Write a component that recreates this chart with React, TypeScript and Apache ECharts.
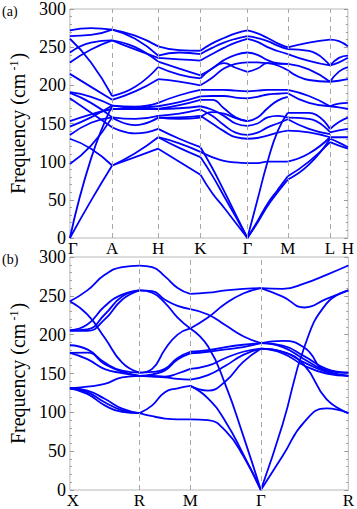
import React, { useEffect, useRef } from "react";
import * as echarts from "echarts";

// ---------- panel (a) ----------
const topTicks = [0, 45, 94, 139, 189, 232, 277, 296];
const topLabels = ["Γ", "A", "H", "K", "Γ", "M", "L", "H"];

const topGA = [
  [272, 275, 273],
  [264.5, 266, 273],
  [261, 230, 186],
  [243, 256, 259],
  [230, 247, 259],
  [215, 198, 181],
  [191, 185, 173.5],
  [190, 177, 158],
  [183, 164, 145],
  [153, 162, 169],
  [146, 158, 173.5],
  [135, 151, 158],
  [130, 117, 95],
  [97, 121, 158],
  [0, 104, 173.5],
  [0, 49, 95],
];
const topAH = [
  [273, 265, 251],
  [273, 261, 239],
  [259, 250, 231],
  [259, 247, 236],
  [186, 198, 224],
  [181, 192, 208],
  [173.5, 172, 177],
  [173.5, 171, 172.6],
  [169, 169, 169],
  [158, 148, 157.7],
  [158, 156, 160],
  [145, 137, 143],
  [95, 111, 132],
  [95, 106, 117],
];
const topHK = [
  [251, 246, 245.3],
  [239, 243, 241],
  [236, 234, 232.5],
  [231, 222, 213],
  [224, 214, 209],
  [208, 205, 200],
  [177, 187, 194],
  [172.6, 178, 185.5],
  [169, 174, 181],
  [169, 170, 172.6],
  [160, 163, 168.4],
  [157.7, 158, 160],
  [157.7, 156, 157.7],
  [143, 130, 119],
  [132, 124, 112.8],
  [132, 118, 106],
  [117, 100, 83],
];
const topKG = [
  [245.3, 255, 262, 268, 272],
  [241, 249, 256, 261, 264.5],
  [232.5, 241, 249, 256, 261],
  [213, 222, 233, 240, 243],
  [209, 222, 229, 223, 217.5],
  [200, 210, 222, 228, 230],
  [194, 194, 194, 193, 192],
  [185.5, 186, 186, 184, 183],
  [181, 181, 170, 158, 153],
  [172.6, 168, 160, 150, 147],
  [168.4, 160, 148, 138, 135],
  [160, 150, 140, 132, 130],
  [157.7, 165, 163, 157, 153],
  [119, 92, 62, 31, 0],
  [112.8, 106, 101, 99, 98],
  [106, 82, 55, 28, 0],
  [83, 59, 40, 20, 0],
];
const topGM = [
  [272, 268, 262, 255, 249.6],
  [264.5, 262, 258, 252, 247.4],
  [261, 257, 250, 245, 241],
  [243, 240, 233, 229, 228],
  [230, 230, 229, 228, 228],
  [217.5, 222, 229, 226, 219.7],
  [192, 193, 194, 194, 194],
  [183, 185, 188, 189, 189.7],
  [153, 158, 170, 180, 185],
  [147, 150, 158, 160, 157.7],
  [135, 138, 145, 150, 155.6],
  [130, 131, 134, 138, 140.6],
  [98, 98, 100, 100, 100],
  [0, 50, 100, 140, 164],
  [0, 22, 45, 63, 80.8],
  [0, 20, 42, 60, 76.5],
];
const topML = [
  [249.6, 256, 260],
  [247.4, 245, 226],
  [241, 232, 226],
  [228, 221, 204.7],
  [219.7, 207, 204.7],
  [194, 186, 172.6],
  [189.7, 177, 172.6],
  [164, 164, 142.7],
  [157.7, 156, 138.5],
  [155.6, 143, 136],
  [140.6, 138.5, 132],
  [100, 110.7, 132],
  [80.8, 100, 125.6],
  [76.5, 96, 130],
];
const topLH = [
  [260, 258, 251],
  [226, 236, 239],
  [226, 230, 236],
  [204.7, 218, 224],
  [204.7, 206, 208],
  [172.6, 176, 177],
  [172.6, 171, 169],
  [142.7, 152, 157.7],
  [138.5, 141, 143],
  [132, 132, 132],
  [130, 125, 119],
  [125.6, 121, 117],
];
const topSegments = [topGA, topAH, topHK, topKG, topGM, topML, topLH];

// ---------- panel (b) ----------
const botTicks = [0, 74, 128, 203, 296];
const botLabels = ["X", "R", "M", "Γ", "R"];

const botXR = [
  [243, 257, 277, 287, 289],
  [243, 226, 196, 164, 151],
  [205.5, 213, 236.6, 251.5, 257],
  [205.5, 206.8, 226, 249, 257],
  [205, 205, 219.6, 245, 257],
  [186.4, 181, 164, 153.6, 151],
  [176.6, 177, 162, 152.4, 147],
  [176.6, 168.5, 155.7, 150.6, 147],
  [131, 133, 136.6, 145, 147],
  [131, 126, 113, 102.6, 99],
  [131, 128, 117.4, 104.7, 99],
  [131, 123.8, 109, 100.5, 99],
];
const botRM = [
  [289, 287, 275, 260, 252.4],
  [257, 256, 245, 237, 233],
  [257, 254, 241, 222, 208],
  [151, 156, 181, 200, 208],
  [151, 152, 156, 170, 178],
  [147, 149, 154, 168, 176],
  [147, 147, 146, 150, 156],
  [147, 146, 145, 143, 142],
  [99, 109, 126, 131, 134],
  [99, 95, 92, 91, 91],
];
const botMG = [
  [252.4, 254, 257, 259, 260],
  [233, 226, 212, 198, 189],
  [208, 222, 240, 253, 260],
  [208, 185, 135, 70, 0],
  [178, 180, 184, 187, 189],
  [176, 178, 181, 184, 189],
  [156, 160, 170, 178, 182],
  [142, 148, 160, 174, 182],
  [134, 128, 140, 165, 182],
  [134, 118, 88, 46, 0],
  [91, 90, 76, 44, 0],
];
const botGR = [
  [260, 259, 266, 277, 289],
  [260, 249, 235, 246, 257],
  [0, 85, 185, 240, 257],
  [0, 44, 88, 105, 99],
  [189, 192, 183, 154, 151],
  [189, 186, 172, 156, 151],
  [189, 184, 168, 153, 147],
  [182, 178, 164, 152, 147],
  [182, 176, 160, 150, 147],
  [182, 178, 160, 117, 99],
];
const botSegments = [botXR, botRM, botMG, botGR];

const yMin = 0;
const yMax = 300;
const yStep = 50;

const SERIF = '"Liberation Serif", "DejaVu Serif", serif';

function buildLines(ticks: number[], segments: number[][][]) {
  const out: number[][][] = [];
  segments.forEach((seg, i) => {
    const k0 = ticks[i];
    const k1 = ticks[i + 1];
    seg.forEach((vals) => {
      const n = vals.length - 1;
      out.push(vals.map((v, j) => [k0 + ((k1 - k0) * j) / n, v]));
    });
  });
  return out;
}

function makeXAxis(gridIndex: number, ticks: number[], labels: string[]) {
  return {
    type: "value",
    gridIndex,
    min: ticks[0],
    max: ticks[ticks.length - 1],
    axisLine: { show: false },
    axisTick: { show: false },
    splitLine: { show: false },
    axisLabel: {
      customValues: ticks,
      showMinLabel: true,
      showMaxLabel: true,
      margin: 2,
      color: "#000",
      fontFamily: SERIF,
      fontSize: 17,
      rich: {
        m: { fontFamily: SERIF, fontSize: 17, color: "#000", padding: [0, 0, 0, 6] },
      },
      formatter: (v: number) => {
        const i = ticks.findIndex((t) => Math.abs(t - v) < 1e-6);
        if (i < 0) return "";
        return i === 0 ? `{m|${labels[i]}}` : labels[i];
      },
    },
  };
}

function makeYAxis(gridIndex: number, position: "left" | "right") {
  const left = position === "left";
  return {
    type: "value",
    gridIndex,
    position,
    min: yMin,
    max: yMax,
    interval: yStep,
    axisLine: { show: false },
    splitLine: { show: false },
    axisTick: { show: true, inside: true, length: 4, lineStyle: { color: "#999" } },
    minorTick: { show: true, splitNumber: 5, length: 2, lineStyle: { color: "#999" } },
    axisLabel: {
      show: left,
      margin: 4,
      color: "#000",
      fontFamily: SERIF,
      fontSize: 18,
    },
    name: left ? "Frequency (cm{s|-1})" : "",
    nameLocation: "middle",
    nameRotate: 90,
    nameGap: 37,
    nameTextStyle: {
      color: "#000",
      fontFamily: SERIF,
      fontSize: 20,
      rich: {
        s: { fontFamily: SERIF, fontSize: 12, verticalAlign: "top", padding: [0, 1, 0, 3] },
      },
    },
  };
}

export default function App() {
  const ref = useRef<HTMLDivElement>(null);
  useEffect(() => {
    if (!ref.current) return;
    const chart = echarts.init(ref.current, undefined, { renderer: "svg" });
    const lineStyle = { color: "#0000ff", width: 1.8 };
    const series: any[] = [];
    const panels = [
      { ticks: topTicks, segs: topSegments, xi: 0, yi: 0 },
      { ticks: botTicks, segs: botSegments, xi: 1, yi: 1 },
    ];
    panels.forEach((p) => {
      series.push({
        type: "line",
        xAxisIndex: p.xi,
        yAxisIndex: p.yi,
        data: [],
        silent: true,
        z: 1,
        markLine: {
          silent: true,
          symbol: ["none", "none"],
          label: { show: false },
          lineStyle: { color: "#a8a8a8", type: [5, 4], width: 1 },
          data: p.ticks.slice(1, -1).map((k) => ({ xAxis: k })),
        },
      });
      buildLines(p.ticks, p.segs).forEach((d) => {
        series.push({
          type: "line",
          xAxisIndex: p.xi,
          yAxisIndex: p.yi,
          data: d,
          showSymbol: false,
          smooth: 0.5,
          silent: true,
          z: 3,
          lineStyle,
        });
      });
    });

    chart.setOption({
      animation: false,
      grid: [
        { left: 59, right: 2, top: 4, height: 234, show: true, borderColor: "#b8b8b8", borderWidth: 1, backgroundColor: "transparent" },
        { left: 59, right: 2, top: 257, height: 235, show: true, borderColor: "#b8b8b8", borderWidth: 1, backgroundColor: "transparent" },
      ],
      xAxis: [makeXAxis(0, topTicks, topLabels), makeXAxis(1, botTicks, botLabels)],
      yAxis: [makeYAxis(0, "left"), makeYAxis(1, "left"), makeYAxis(0, "right"), makeYAxis(1, "right")],
      graphic: [
        { type: "text", left: 2, top: 4, style: { text: "(a)", font: `14px ${SERIF}`, fill: "#000" } },
        { type: "text", left: 2, top: 252, style: { text: "(b)", font: `14px ${SERIF}`, fill: "#000" } },
      ],
      series,
    });
    return () => chart.dispose();
  }, []);
  return (
    <div
      ref={ref}
      style={{ position: "fixed", left: 0, top: 0, width: 357, height: 509, background: "#fff" }}
    />
  );
}
